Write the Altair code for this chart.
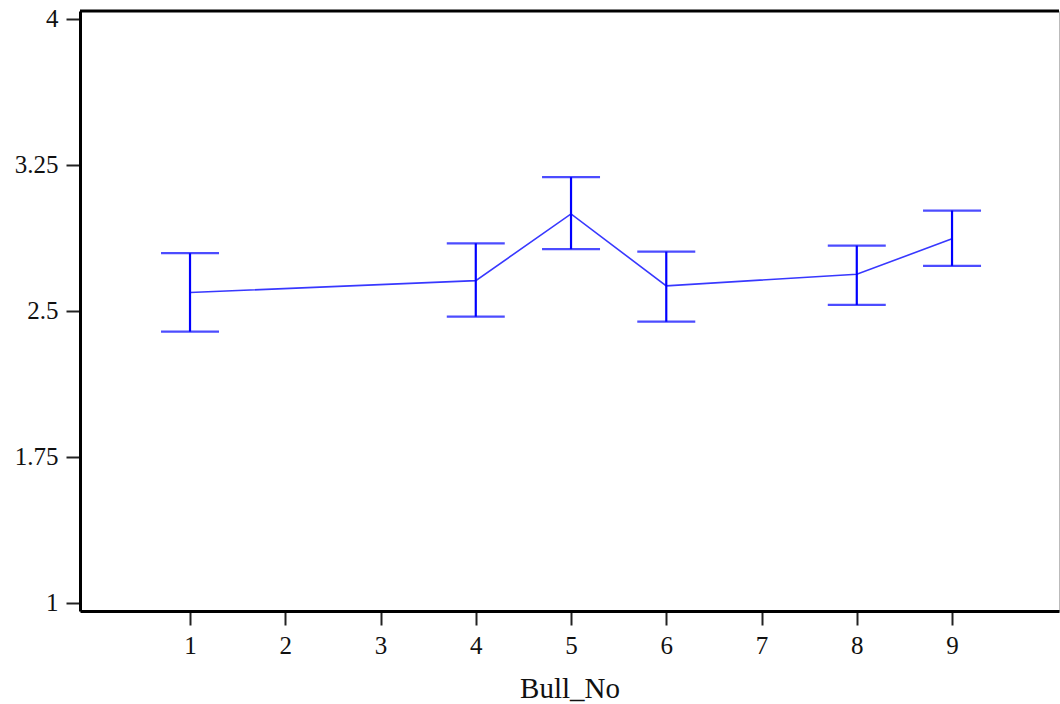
import altair as alt
import pandas as pd

# Bull number and mean with interval limits
bull_no = [1, 4, 5, 6, 8, 9]
mean_val = [2.594, 2.655, 2.998, 2.628, 2.688, 2.870]
lower_val = [2.393, 2.470, 2.817, 2.444, 2.530, 2.731]
upper_val = [2.796, 2.847, 3.187, 2.804, 2.835, 3.015]

x_ticks = [1, 2, 3, 4, 5, 6, 7, 8, 9]
y_ticks = [1, 1.75, 2.5, 3.25, 4]

df = pd.DataFrame({
    "Bull_No": bull_no,
    "mean": mean_val,
    "lower": lower_val,
    "upper": upper_val,
})

W, H = 979, 600
FONT = "Liberation Serif"

x_scale = alt.Scale(domain=[-0.155, 10.123], nice=False, zero=False)
y_scale = alt.Scale(domain=[0.957, 4.041], nice=False, zero=False)

x_axis = alt.Axis(
    values=x_ticks, format="d", title="Bull_No", grid=False,
    domainColor="black", domainWidth=3, tickColor="#222", tickWidth=2,
    tickSize=14, labelPadding=8, labelFontSize=25, labelFont=FONT,
    labelColor="#111", titleFont=FONT, titleFontSize=29,
    titleFontWeight="normal", titleColor="#111", titlePadding=16,
)
y_axis = alt.Axis(
    values=y_ticks, labelExpr="format(datum.value, '.3~g')", title=None,
    grid=False, domainColor="black", domainWidth=3, tickColor="#222",
    tickWidth=2, tickSize=14, labelPadding=8, labelFontSize=25,
    labelFont=FONT, labelColor="#111",
)

base = alt.Chart(df)

line = base.mark_line(color="#3838ff", strokeWidth=1.6).encode(
    x=alt.X("Bull_No:Q", scale=x_scale, axis=x_axis),
    y=alt.Y("mean:Q", scale=y_scale, axis=y_axis),
)

stems = base.mark_rule(color="#0000ff", strokeWidth=2.2).encode(
    x=alt.X("Bull_No:Q", scale=x_scale),
    y=alt.Y("lower:Q", scale=y_scale),
    y2="upper:Q",
)

caps_top = base.mark_tick(color="#0000ff", size=58, thickness=2.2, orient="horizontal").encode(
    x=alt.X("Bull_No:Q", scale=x_scale),
    y=alt.Y("upper:Q", scale=y_scale),
)
caps_bot = base.mark_tick(color="#0000ff", size=58, thickness=2.2, orient="horizontal").encode(
    x=alt.X("Bull_No:Q", scale=x_scale),
    y=alt.Y("lower:Q", scale=y_scale),
)

top_border = alt.Chart(pd.DataFrame({"k": [0]})).mark_rule(
    color="black", strokeWidth=3
).encode(x=alt.value(0), x2=alt.value(W), y=alt.value(0))

chart = alt.layer(line, stems, caps_top, caps_bot, top_border).properties(
    width=W, height=H,
    autosize=alt.AutoSizeParams(type="none"),
    padding={"left": 80, "top": 11, "right": 1, "bottom": 93},
    background="white",
).configure_view(stroke="#bbbbbb", strokeWidth=1)

chart.save("out.html", embed_options={"renderer": "svg", "actions": False})
